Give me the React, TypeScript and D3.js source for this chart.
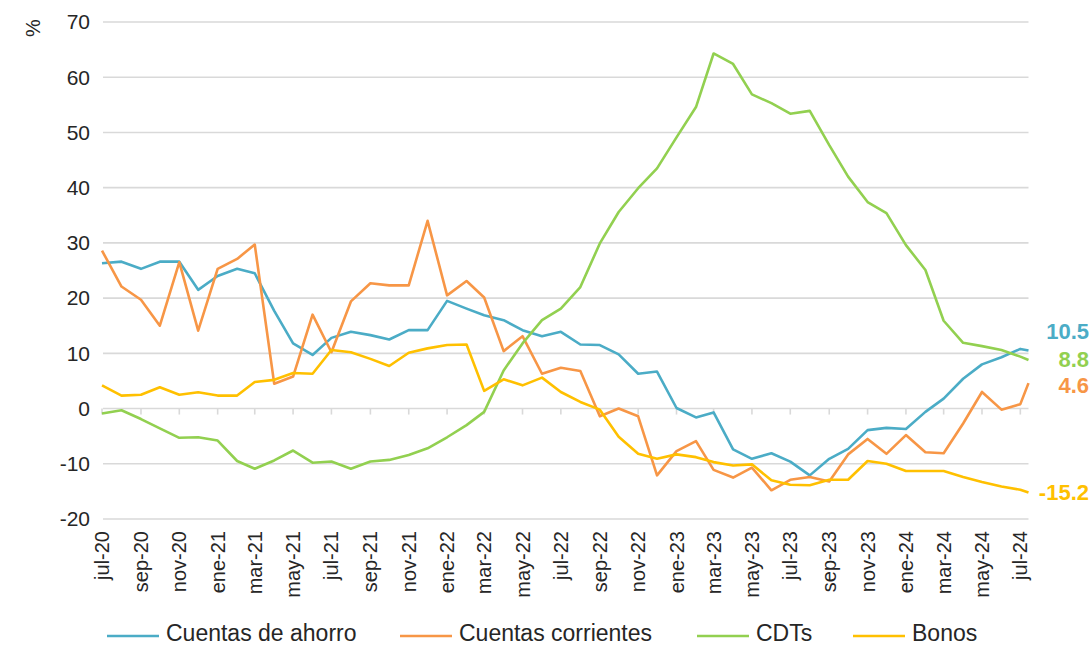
import React from "react";
import * as d3 from "d3";

const dates = [
  "2020-07-01","2020-08-01","2020-09-01","2020-10-01","2020-11-01","2020-12-01",
  "2021-01-01","2021-02-01","2021-03-01","2021-04-01","2021-05-01","2021-06-01",
  "2021-07-01","2021-08-01","2021-09-01","2021-10-01","2021-11-01","2021-12-01",
  "2022-01-01","2022-02-01","2022-03-01","2022-04-01","2022-05-01","2022-06-01",
  "2022-07-01","2022-08-01","2022-09-01","2022-10-01","2022-11-01","2022-12-01",
  "2023-01-01","2023-02-01","2023-03-01","2023-04-01","2023-05-01","2023-06-01",
  "2023-07-01","2023-08-01","2023-09-01","2023-10-01","2023-11-01","2023-12-01",
  "2024-01-01","2024-02-01","2024-03-01","2024-04-01","2024-05-01","2024-06-01",
  "2024-07-01","2024-07-14",
];

const tickLabels = [
  "jul-20","sep-20","nov-20","ene-21","mar-21","may-21","jul-21","sep-21","nov-21",
  "ene-22","mar-22","may-22","jul-22","sep-22","nov-22","ene-23","mar-23","may-23",
  "jul-23","sep-23","nov-23","ene-24","mar-24","may-24","jul-24",
];

const yTicks = [-20, -10, 0, 10, 20, 30, 40, 50, 60, 70];

const ahorro = [
  26.3, 26.6, 25.3, 26.6, 26.6, 21.5, 24.0, 25.3, 24.5, 17.7, 11.8, 9.7,
  12.8, 13.9, 13.3, 12.5, 14.2, 14.2, 19.5, 18.1, 16.9, 16.0, 14.2, 13.1,
  13.9, 11.6, 11.5, 9.8, 6.3, 6.7, 0.1, -1.6, -0.7, -7.4, -9.1, -8.1,
  -9.6, -12.1, -9.1, -7.3, -3.9, -3.5, -3.7, -0.6, 1.8, 5.4, 8.0, 9.3,
  10.8, 10.5,
];

const corrientes = [
  28.6, 22.1, 19.7, 15.0, 26.5, 14.1, 25.3, 27.1, 29.7, 4.5, 5.8, 17.0,
  10.2, 19.4, 22.7, 22.3, 22.3, 34.0, 20.5, 23.1, 20.1, 10.4, 13.1, 6.3,
  7.4, 6.8, -1.4, 0.0, -1.4, -12.1, -7.7, -5.9, -11.1, -12.5, -10.7, -14.8,
  -12.9, -12.4, -13.2, -8.3, -5.5, -8.2, -4.8, -7.9, -8.1, -2.7, 3.0, -0.2,
  0.8, 4.6,
];

const cdts = [
  -0.9, -0.3, -1.9, -3.6, -5.3, -5.2, -5.8, -9.5, -10.9, -9.4, -7.6, -9.8,
  -9.6, -10.9, -9.6, -9.3, -8.4, -7.2, -5.2, -3.0, -0.6, 6.9, 11.8, 16.0,
  18.1, 22.0, 29.9, 35.6, 39.9, 43.5, 49.1, 54.6, 64.3, 62.4, 56.9, 55.3,
  53.4, 53.9, 47.7, 42.0, 37.4, 35.4, 29.6, 25.1, 15.9, 11.9, 11.3, 10.6,
  9.4, 8.8,
];

const bonos = [
  4.2, 2.35, 2.5, 3.85, 2.5, 2.95, 2.35, 2.35, 4.8, 5.2, 6.45, 6.3,
  10.6, 10.2, 9.0, 7.7, 10.1, 10.9, 11.5, 11.6, 3.2, 5.3, 4.2, 5.6,
  3.0, 1.2, -0.2, -5.1, -8.2, -9.1, -8.3, -8.8, -9.7, -10.3, -10.1, -13.0,
  -13.8, -13.9, -12.9, -12.9, -9.5, -10.0, -11.3, -11.3, -11.3, -12.4, -13.3, -14.1,
  -14.7, -15.2,
];

const seriesNames = ["Cuentas de ahorro", "Cuentas corrientes", "CDTs", "Bonos"];
const seriesColors = ["#4BACC6", "#F79646", "#92D050", "#FFC000"];
const endLabels = ["10.5", "4.6", "8.8", "-15.2"];

const FONT = "'Liberation Sans', Arial, Helvetica, sans-serif";
const TEXT = "#262626";
const GRID = "#d9d9d9";

export default function App() {
  const W = 1091, H = 647;
  const parse = d3.timeParse("%Y-%m-%d");
  const xDates = dates.map((d) => parse(d) as Date);
  const x = d3.scaleTime().domain([xDates[0], xDates[xDates.length - 1]]).range([102, 1028.5]);
  const y = d3.scaleLinear().domain([-20, 70]).range([519, 22]);

  const all = [ahorro, corrientes, cdts, bonos];
  const line = d3
    .line<number>()
    .x((_, i) => x(xDates[i]))
    .y((v) => y(v));

  const tickDates = tickLabels.map((_, k) => xDates[k * 2]);
  const endOffsets = [-19, 2, -1, 0];

  const legendX = [107, 400, 697, 853];

  return (
    <div style={{ position: "fixed", left: 0, top: 0 }}>
      <svg width={W} height={H} style={{ display: "block", background: "#fff" }} fontFamily={FONT}>
        {yTicks.map((t) => (
          <g key={t}>
            <line x1={103} x2={1028.5} y1={y(t)} y2={y(t)} stroke={GRID} strokeWidth={1.6} />
            <text x={90} y={y(t)} dy="0.35em" textAnchor="end" fontSize={21} fill={TEXT}>
              {t}
            </text>
          </g>
        ))}
        {tickDates.map((d, k) => (
          <g key={k}>
            <line x1={x(d)} x2={x(d)} y1={y(0)} y2={y(0) + 6} stroke={GRID} strokeWidth={1.6} />
            <text
              transform={`translate(${x(d)},531) rotate(-90)`}
              dy="0.35em"
              textAnchor="end"
              fontSize={20}
              fill={TEXT}
            >
              {tickLabels[k]}
            </text>
          </g>
        ))}
        <text transform="translate(33,28) rotate(-90)" dy="0.35em" textAnchor="middle" fontSize={20} fill={TEXT}>
          %
        </text>
        {all.map((s, si) => (
          <path
            key={si}
            d={line(s) || ""}
            fill="none"
            stroke={seriesColors[si]}
            strokeWidth={2.6}
            strokeLinejoin="round"
          />
        ))}
        {all.map((s, si) => (
          <text
            key={si}
            x={1089}
            y={y(s[s.length - 1]) + endOffsets[si]}
            dy="0.36em"
            textAnchor="end"
            fontSize={22}
            fontWeight="bold"
            fill={seriesColors[si]}
          >
            {endLabels[si]}
          </text>
        ))}
        {seriesNames.map((n, si) => (
          <g key={n}>
            <line x1={legendX[si]} x2={legendX[si] + 52} y1={636} y2={636} stroke={seriesColors[si]} strokeWidth={2.6} />
            <text x={legendX[si] + 59} y={641} fontSize={23} fill={TEXT}>
              {n}
            </text>
          </g>
        ))}
      </svg>
    </div>
  );
}
